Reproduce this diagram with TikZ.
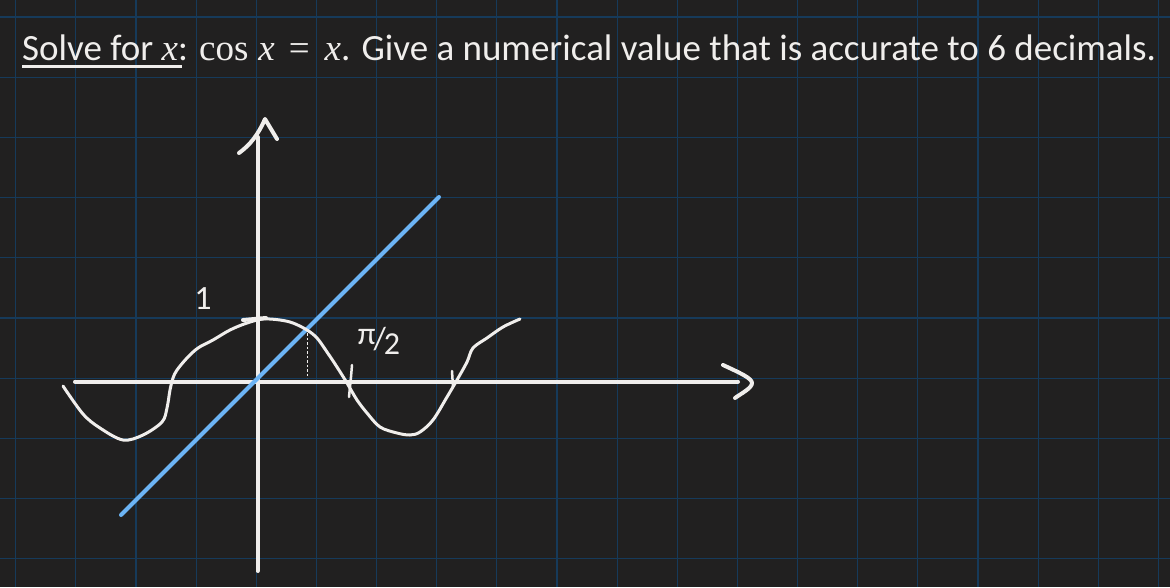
\documentclass[tikz,border=0pt]{standalone}
\usepackage{fontspec}
\setmainfont{Carlito}
\newfontfamily\mathish{Liberation Serif}
\newcommand{\mvar}[1]{{\mathish\itshape #1}}
\newcommand{\mup}[1]{{\mathish #1}}
\definecolor{bg}{RGB}{33,32,32}
\definecolor{gridblue}{RGB}{22,58,90}
\definecolor{chalk}{RGB}{240,238,236}
\definecolor{lineblue}{RGB}{108,180,245}
\tikzset{
  chalkline/.style={draw=chalk, line width=4pt, line cap=round, line join=round},
  thinchalk/.style={draw=chalk, line width=2.5pt, line cap=round, line join=round},
  gridline/.style={draw=gridblue, line width=1.1pt},
  label/.style={text=chalk, inner sep=0pt}
}
\begin{document}
\begin{tikzpicture}[x=1pt,y=-1pt]
\useasboundingbox (0,0) rectangle (1170,587);
\fill[bg] (0,0) rectangle (1170,587);
% grid
\foreach \k in {0,...,19} {\draw[gridline] ({15.7+60.14*\k},0) -- ({15.7+60.14*\k},587);}
\foreach \k in {0,...,9} {\draw[gridline] (0,{17+60.2*\k}) -- (1170,{17+60.2*\k});}
% title
\node[label, anchor=base west] (title) at (22,60) {\fontsize{37}{40}\selectfont Solve for \mvar{x}: \mup{cos}\hspace{10pt}\mvar{x}\hspace{14pt}\mup{=}\hspace{15pt}\mvar{x}. Give a numerical value that is accurate to 6 decimals.};
\draw[chalk, line width=2.6pt] (22,66.3) -- (182,66.3);
% axes
\draw[chalkline] (257.5,571) -- (257.5,137);
\draw[chalkline] (239,153) .. controls (250,145) and (258,135) .. (265,119) -- (277,139);
\draw[chalkline] (75,381.5) -- (738,381.5);
\draw[chalkline] (723,365) .. controls (738,372) and (752,378) .. (752,383) .. controls (752,388) and (742,393) .. (735,398);
% blue line y=x
\draw[lineblue, line width=4pt, line cap=round] (121,515) -- (439,197);
% cosine
\draw[thinchalk, line width=3pt] plot[smooth, tension=0.55] coordinates {
(63,386) (83,414) (100,428) (123,440) (143,435) (162,422) (167,408) (170,390)
(173,378) (177,370) (187,358) (198,348) (213,340) (230,330) (247,323) (263,319)
(280,320) (293,323) (307,330) (317,338) (327,352) (337,367) (347,383) (357,400)
(367,413) (380,427) (397,433) (410,435) (420,432) (433,420) (447,397) (457,380)
(467,362) (473,348) (487,338) (503,327) (520,319)};
% tick at 1
\draw[chalkline] (243,320) -- (266,318);
% ticks on x axis
\draw[thinchalk] (352,365) -- (351,377) -- (349,397);
\draw[thinchalk] (452,371) -- (453,387);
% dotted drop
\draw[chalk!85, line width=1.3pt, dash pattern=on 2.5pt off 2pt] (307.5,333) -- (307.5,378);
% labels
\node[label] (one) at (203,299) {\fontsize{34}{34}\selectfont 1};
\node[label] (halfpi) at (379,341) {\fontsize{32}{32}\selectfont\raisebox{0.3ex}{π}\kern-2pt/\kern-2pt\raisebox{-0.35ex}{2}};
\end{tikzpicture}
\end{document}
